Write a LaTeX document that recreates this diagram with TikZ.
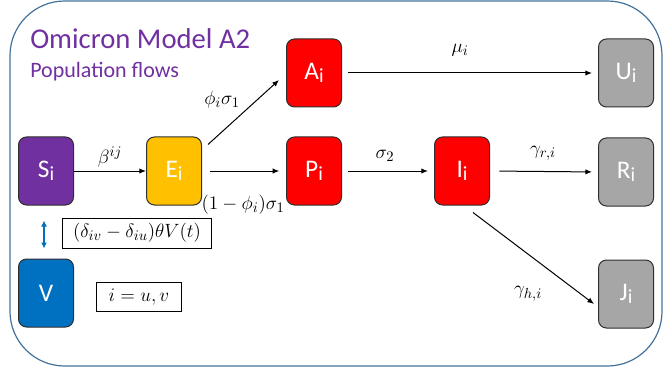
\documentclass[tikz,border=0pt]{standalone}
\usepackage{fontspec}
\usepackage{tikz}
\usepackage{amsmath}
\usetikzlibrary{calc,arrows.meta}
\newfontfamily\calibri{Carlito}
\definecolor{framec}{HTML}{41719C}
\definecolor{boxline}{HTML}{2F2F2F}
\definecolor{compS}{HTML}{7030A0}
\definecolor{compE}{HTML}{FFC000}
\definecolor{compI}{HTML}{FF0000}
\definecolor{compR}{HTML}{A6A6A6}
\definecolor{compV}{HTML}{0070C0}
\newcommand*{\Sub}[1]{#1\raisebox{-2.5pt}{\fontsize{15}{15}\selectfont i}}
\newcommand*{\CompartmentRow}[1]{% #1 = list of name/x/y/colour/label
\foreach \n/\x/\y/\col/\txt in {#1} {
\node [comp, fill=\col] (\n) at (\x,\y) {\txt};
}%
}
\tikzset{
  comp/.style={draw=boxline, line width=0.75pt, rounded corners=6pt,
    minimum width=41.25pt, minimum height=51pt, inner sep=0pt,
    text=white, font=\calibri\fontsize{19}{22}\selectfont},
  flow/.style={-{Latex[length=5pt,width=4pt]}, line width=0.75pt},
  rate/.style={inner sep=0pt, font=\fontsize{15}{17}\selectfont},
  term/.style={draw, line width=0.75pt, inner sep=0pt,
    font=\fontsize{15}{17}\selectfont},
}

\begin{document}
\begin{tikzpicture}[x=0.75pt,y=-0.75pt]
\useasboundingbox (0,0) rectangle (663,374);
\draw [framec, line width=0.9pt, rounded corners=41pt] (10,1) rectangle (662,366);

\node [anchor=base west, inner sep=0pt, text=compS,
  font=\calibri\fontsize{21.5}{24}\selectfont] (title) at (30,49) {Omicron Model A2};
\node [anchor=base west, inner sep=0pt, text=compS,
  font=\calibri\fontsize{16.5}{19}\selectfont] (subtitle) at (30,78) {Population flows};

\CompartmentRow{S/46/171/compS/{\Sub{S}}, E/174/171/compE/{\Sub{E}},
  A/314/73/compI/{\Sub{A}}, P/314/171/compI/{\Sub{P}}, I/462/171/compI/{\Sub{I}}}
\CompartmentRow{U/626/73/compR/{\Sub{U}}, R/626/172/compR/{\Sub{R}},
  J/626/294/compR/{\Sub{J}}, V/46/293/compV/{V}}

% flows
\draw [flow] (S.east) -- (E.west);
\draw [flow] ($(E.north east)+(6,8)$) -- ($(A.west)+(-7,7)$);
\draw [flow, shorten <=6pt, shorten >=5pt] (E.east) -- (P.west);
\draw [flow, shorten <=4.5pt, shorten >=4.5pt] (A.east) -- (U.west);
\draw [flow, shorten <=4.5pt, shorten >=4.5pt] (P.east) -- (I.west);
\draw [flow, shorten <=7pt, shorten >=4.5pt] (I.east) -- (R.west);
\draw [flow] ($(I.south)+(11,7)$) -- ($(J.west)+(-4,10)$);
\draw [compV, line width=1pt, {Latex[length=4.5pt,width=4.5pt]}-{Latex[length=4.5pt,width=4.5pt]}]
  ($(S.south)+(-2,15)$) -- ($(V.north)+(-2,-10)$);

\node [rate] (beta) at (110,157) {$\beta^{ij}$};
\node [rate] (phisig) at (222,100) {$\phi_i\sigma_1$};
\node [rate] (onephi) at (243,205) {$(1-\phi_i)\sigma_1$};
\node [rate] (mu) at (460,50) {$\mu_i$};
\node [rate] (sig2) at (385,156) {$\sigma_2$};
\node [rate] (gamr) at (543,153) {$\gamma_{r,i}$};
\node [rate] (gamh) at (528,294) {$\gamma_{h,i}$};

\node [term, minimum width=112pt, minimum height=22.5pt] (vacc) at (137,233)
  {$(\delta_{iv}-\delta_{iu})\theta V(t)$};
\node [term, minimum width=64pt, minimum height=22pt] (index) at (139,297) {$i=u,v$};
\end{tikzpicture}
\end{document}
